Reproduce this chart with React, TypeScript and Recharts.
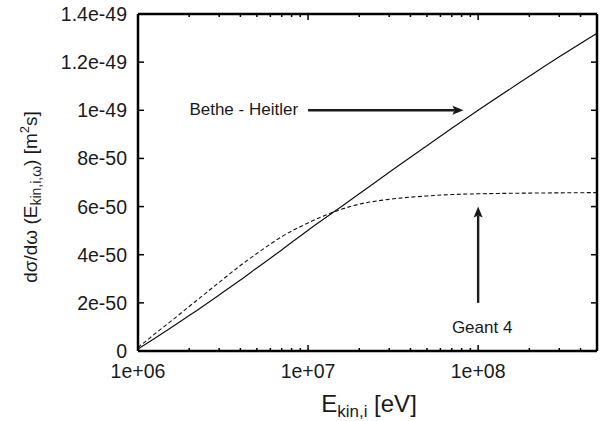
import React from "react"
import { LineChart, Line, XAxis, YAxis, ReferenceLine, ReferenceDot } from "recharts"

// kinetic energy E_kin,i [eV]
const energy = [1e6, 1.1e6, 1.25e6, 1.5e6, 2e6, 3e6, 4e6, 5e6, 7e6, 1e7, 1.5e7, 2e7, 3e7, 5e7, 7e7, 1e8, 2e8, 3e8, 5e8]
// dσ/dω in units of 1e-50 m^2 s
const betheHeitler = [0.08, 0.27, 0.52, 0.88, 1.47, 2.33, 2.95, 3.45, 4.2, 5.02, 5.9, 6.53, 7.43, 8.53, 9.25, 10.0, 11.41, 12.22, 13.2]
const geant4 = [0.15, 0.38, 0.7, 1.14, 1.85, 2.85, 3.55, 4.05, 4.75, 5.32, 5.84, 6.1, 6.3, 6.44, 6.5, 6.53, 6.56, 6.57, 6.58]

const xMajor = [1e6, 1e7, 1e8]
const xTicks = [
  1e6, 2e6, 3e6, 4e6, 5e6, 6e6, 7e6, 8e6, 9e6,
  1e7, 2e7, 3e7, 4e7, 5e7, 6e7, 7e7, 8e7, 9e7,
  1e8, 2e8, 3e8, 4e8, 5e8,
]
const xTickLabels = ["1e+06", "1e+07", "1e+08"]
const yTicks = [0, 2, 4, 6, 8, 10, 12, 14]
const yTickLabels = ["0", "2e-50", "4e-50", "6e-50", "8e-50", "1e-49", "1.2e-49", "1.4e-49"]

const data = energy.map((e, i) => ({ e, bh: betheHeitler[i], g4: geant4[i] }))

const FONT = "'Liberation Sans', Arial, Helvetica, sans-serif"
const INK = "#1a1a1a"

const BottomTick = (p: any) => {
  const idx = xMajor.indexOf(p.payload.value)
  const major = idx >= 0
  return (
    <g>
      <line x1={p.x} y1={p.y} x2={p.x} y2={p.y - (major ? 6 : 3)} stroke="#000" strokeWidth={1.5} />
      {major && (
        <text x={p.x} y={p.y + 27} textAnchor="middle" fontSize={19.5} fontFamily={FONT} fill={INK}>
          {xTickLabels[idx]}
        </text>
      )}
    </g>
  )
}

const TopTick = (p: any) => {
  const major = xMajor.includes(p.payload.value)
  return <line x1={p.x} y1={p.y} x2={p.x} y2={p.y + (major ? 6 : 3)} stroke="#000" strokeWidth={1.5} />
}

const LeftTick = (p: any) => {
  const idx = yTicks.indexOf(p.payload.value)
  return (
    <g>
      <line x1={p.x} y1={p.y} x2={p.x + 6} y2={p.y} stroke="#000" strokeWidth={1.5} />
      <text x={p.x - 11} y={p.y + 7} textAnchor="end" fontSize={19.5} fontFamily={FONT} fill={INK}>
        {yTickLabels[idx]}
      </text>
    </g>
  )
}

const RightTick = (p: any) => (
  <line x1={p.x} y1={p.y} x2={p.x - 6} y2={p.y} stroke="#000" strokeWidth={1.5} />
)

const Arrow = (p: any) => {
  const { x1, y1, x2, y2 } = p
  const dx = x2 - x1
  const dy = y2 - y1
  const len = Math.sqrt(dx * dx + dy * dy) || 1
  const ux = dx / len
  const uy = dy / len
  const head = 11
  const half = 4.5
  const bx = x2 - ux * head
  const by = y2 - uy * head
  return (
    <g>
      <line x1={x1} y1={y1} x2={bx + ux * 2} y2={by + uy * 2} stroke={INK} strokeWidth={2.4} />
      <polygon
        points={`${x2},${y2} ${bx - uy * half},${by + ux * half} ${bx + ux * 2},${by + uy * 2} ${bx + uy * half},${by - ux * half}`}
        fill={INK}
      />
    </g>
  )
}

const YLabel = () => (
  <text
    x={37}
    y={197}
    transform="rotate(-90, 37, 197)"
    textAnchor="middle"
    fontSize={19}
    fontFamily={FONT}
    fill={INK}
  >
    <tspan>dσ/dω (E</tspan>
    <tspan fontSize={14} dy={4}>kin,i,ω</tspan>
    <tspan dy={-4}>) [m</tspan>
    <tspan fontSize={13} dy={-8}>2</tspan>
    <tspan dy={8}>s]</tspan>
  </text>
)

const XLabel = () => (
  <text x={369} y={412} textAnchor="middle" fontSize={24} fontFamily={FONT} fill={INK}>
    <tspan>E</tspan>
    <tspan fontSize={17} dy={5}>kin,i</tspan>
    <tspan dy={-5}> [eV]</tspan>
  </text>
)

const App: React.FC = () => {
  return (
    <div style={{ position: "absolute", left: 0, top: 0, width: 603, height: 421, background: "#fff" }}>
      <LineChart width={603} height={421} data={data} margin={{ top: 0, right: 0, bottom: 0, left: 0 }}>
        <XAxis
          dataKey="e"
          type="number"
          scale="log"
          domain={[1e6, 5e8]}
          allowDataOverflow
          ticks={xTicks}
          interval={0}
          height={70}
          tickSize={0}
          tickMargin={0}
          tick={<BottomTick />}
          axisLine={{ stroke: "#000", strokeWidth: 2.5 }}
          label={() => <XLabel />}
        />
        <XAxis
          xAxisId="top"
          orientation="top"
          dataKey="e"
          type="number"
          scale="log"
          domain={[1e6, 5e8]}
          allowDataOverflow
          ticks={xTicks}
          interval={0}
          height={14}
          tickSize={0}
          tickMargin={0}
          tick={<TopTick />}
          axisLine={{ stroke: "#000", strokeWidth: 2.5 }}
        />
        <YAxis
          type="number"
          domain={[0, 14]}
          allowDataOverflow
          ticks={yTicks}
          interval={0}
          width={138}
          tickSize={0}
          tickMargin={0}
          tick={<LeftTick />}
          axisLine={{ stroke: "#000", strokeWidth: 2.5 }}
          label={() => <YLabel />}
        />
        <YAxis
          yAxisId="right"
          orientation="right"
          type="number"
          domain={[0, 14]}
          allowDataOverflow
          ticks={yTicks}
          interval={0}
          width={6}
          tickSize={0}
          tickMargin={0}
          tick={<RightTick />}
          axisLine={{ stroke: "#000", strokeWidth: 2.5 }}
        />
        <Line
          type="monotone"
          dataKey="bh"
          stroke="#111"
          strokeWidth={1.2}
          dot={false}
          isAnimationActive={false}
        />
        <Line
          type="monotone"
          dataKey="g4"
          stroke="#111"
          strokeWidth={1.1}
          strokeDasharray="4 2.5"
          dot={false}
          isAnimationActive={false}
        />
        <ReferenceLine segment={[{ x: 1e7, y: 10 }, { x: 8.2e7, y: 10 }]} shape={<Arrow />} />
        <ReferenceLine segment={[{ x: 1e8, y: 2 }, { x: 1e8, y: 6 }]} shape={<Arrow />} />
        <ReferenceDot
          x={1e7}
          y={10}
          r={0}
          stroke="none"
          fill="none"
          label={(p: any) => (
            <text x={p.viewBox.x - 10} y={p.viewBox.y + 5} textAnchor="end" fontSize={17} fontFamily={FONT} fill={INK}>
              Bethe - Heitler
            </text>
          )}
        />
        <ReferenceDot
          x={1e8}
          y={0.75}
          r={0}
          stroke="none"
          fill="none"
          label={(p: any) => (
            <text x={p.viewBox.x + 4} y={p.viewBox.y} textAnchor="middle" fontSize={17} fontFamily={FONT} fill={INK}>
              Geant 4
            </text>
          )}
        />
      </LineChart>
    </div>
  )
}

export default App
